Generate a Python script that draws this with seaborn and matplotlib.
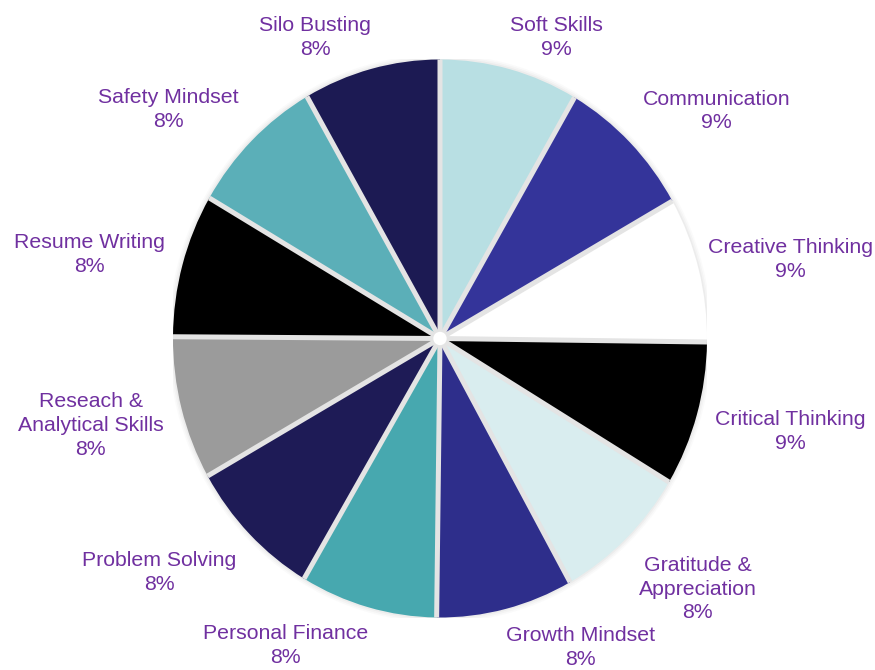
import numpy as np
import matplotlib
matplotlib.use("Agg")
import matplotlib.pyplot as plt
from matplotlib.patches import Ellipse
import seaborn as sns

categories = ["Soft Skills", "Communication", "Creative Thinking", "Critical Thinking",
              "Gratitude &\nAppreciation", "Growth Mindset", "Personal Finance",
              "Problem Solving", "Reseach &\nAnalytical Skills", "Resume Writing",
              "Safety Mindset", "Silo Busting"]
values = [8.4, 8.4, 8.4, 8.4, 8.3, 8.3, 8.3, 8.3, 8.3, 8.3, 8.3, 8.3]
pct_labels = ["9%", "9%", "9%", "9%", "8%", "8%", "8%", "8%", "8%", "8%", "8%", "8%"]
colors = ["#B8DFE3", "#34349A", "#FFFFFF", "#000000", "#D9EDEF", "#2E2E8B",
          "#47A8AF", "#1E1B56", "#9B9B9B", "#000000", "#5BAFB8", "#1C1A53"]

sns.set_theme(style="white")
plt.rcParams['font.family'] = ['Liberation Sans', 'DejaVu Sans']
palette = sns.color_palette(colors)

fig = plt.figure(figsize=(8.75, 6.7), dpi=100)
W, H = 875, 670
cx, cy, RX, RY = 440, 338.5, 267, 279
ax = fig.add_axes([(cx - RX) / W, (H - cy - RY) / H, 2 * RX / W, 2 * RY / H])

# soft shadow
for k, a in [(1.018, 0.035), (1.012, 0.05), (1.006, 0.07)]:
    ax.add_patch(Ellipse((0, 0), 2 * k, 2 * k, facecolor="#888888", alpha=a,
                         edgecolor="none", zorder=0))

wedges, _ = ax.pie(values, colors=palette, startangle=90, counterclock=False,
                   radius=1.0, center=(0, 0),
                   wedgeprops=dict(edgecolor="none", linewidth=0))
for w in wedges:
    w.set_zorder(1)
ax.set_aspect("auto")
ax.set_xlim(-1, 1)
ax.set_ylim(-1, 1)
ax.axis("off")

# separators between slices
for w in wedges:
    th = np.deg2rad(w.theta1)
    ax.plot([0, np.cos(th)], [0, np.sin(th)], color="#E4E4E4", lw=3.6,
            solid_capstyle="butt", zorder=2)
ax.add_patch(Ellipse((0, 0), 0.05, 0.048, facecolor="white", edgecolor="none", zorder=3))

fig.canvas.draw()
renderer = fig.canvas.get_renderer()
for w, cat, pct in zip(wedges, categories, pct_labels):
    ang = np.deg2rad((w.theta1 + w.theta2) / 2)
    c, s = np.cos(ang), np.sin(ang)
    if abs(s) < 0.5:
        dxp = 18
    elif abs(s) < 0.9:
        dxp = 13
    else:
        dxp = 0
    dx = dxp * np.sign(c) / RX
    dy = (10 if s > 0 else -17) / RY
    x, y = c + dx, s + dy
    ha = "left" if c > 0.01 else ("right" if c < -0.01 else "center")
    if s > 0.5:
        va = "bottom"
    elif s < -0.5:
        va = "top"
    else:
        va = "center"
    t = ax.text(x, y, f"{cat}\n{pct}", ha=ha, va=va, multialignment="center",
                color="#7030A0", fontsize=15.3, linespacing=1.32, clip_on=False)
    bb = t.get_window_extent(renderer)
    if bb.x1 > W - 2:
        t.set_x(x - (bb.x1 - (W - 2)) / RX)
    elif bb.x0 < 2:
        t.set_x(x + (2 - bb.x0) / RX)

fig.savefig("out.png", dpi=100, facecolor="white")
